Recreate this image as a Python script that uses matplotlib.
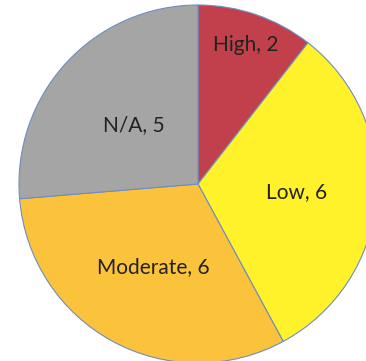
import numpy as np
import matplotlib.pyplot as plt

# risk rating counts, drawn clockwise from 12 o'clock
categories = ['High', 'Low', 'Moderate', 'N/A']
counts = [2, 6, 6, 5]
colors = ['#C1404B', '#FFF22B', '#FBC23C', '#A5A5A5']
label_dist = [0.82, 0.55, 0.53, 0.49]

fig = plt.figure(figsize=(3.66, 3.61), dpi=100)
ax = fig.add_axes([0, 0, 1, 1])

wedges, _ = ax.pie(counts, colors=colors, startangle=90, counterclock=False,
                   radius=1, center=(0, 0),
                   wedgeprops=dict(edgecolor='#6F8DC2', linewidth=0.8))

for w, cat, n, d in zip(wedges, categories, counts, label_dist):
    mid = np.deg2rad((w.theta1 + w.theta2) / 2)
    ax.text(d * np.cos(mid), d * np.sin(mid), f'{cat}, {n}',
            ha='center', va='center', fontsize=15,
            family=['Lato', 'DejaVu Sans'], color='#222222')

# pie centre sits at (198, 184) px with a 179 px radius, right/bottom run off the edge
r_px = 179.0
ax.set_xlim(-198 / r_px, (366 - 198) / r_px)
ax.set_ylim(-(361 - 184) / r_px, 184 / r_px)
ax.set_aspect('equal')
ax.axis('off')

fig.savefig('out.png', dpi=100, facecolor='white')
